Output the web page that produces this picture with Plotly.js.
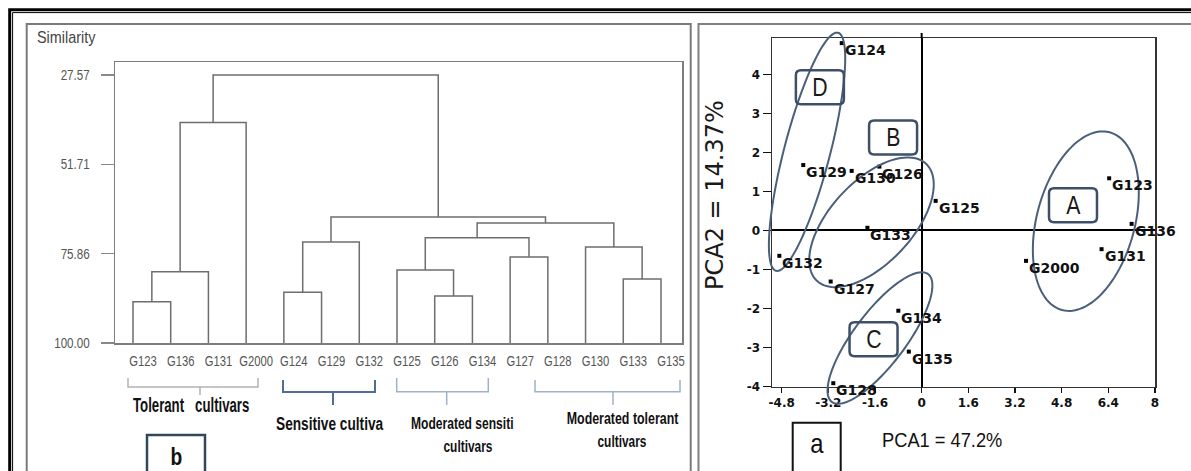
<!DOCTYPE html>
<html><head><meta charset="utf-8">
<script src="https://cdn.plot.ly/plotly-3.0.1.min.js"></script>
<style>html,body{margin:0;padding:0;background:#fff;} #chart{width:1191px;height:471px;}</style>
</head><body><div id="chart"></div>
<script>
// ---------- Dendrogram (panel b) ----------
const leaves = ['G123','G136','G131','G2000','G124','G129','G132','G125','G126','G134','G127','G128','G130','G133','G135'];
const mergeLeft  = ['G123','m0','m1','G124','m3','G126','G125','G127','m6','G133','G130','m8','m4','m2'];
const mergeRight = ['G136','G131','G2000','G129','G132','G134','m5','G128','m7','G135','m9','m10','m11','m12'];
const mergeSim   = [88.84, 80.73, 40.41, 86.3, 72.7, 87.3, 80.27, 76.76, 71.6, 82.7, 74.06, 67.6, 65.95, 27.57];
const simTicks = [27.57, 51.71, 75.86, 100];
const simTickText = ['27.57','51.71','75.86','100.00'];
const clusterLabels = ['Tolerant\u00a0\u00a0\u00a0cultivars','Sensitive cultiva','Moderated sensiti','cultivars','Moderated tolerant','cultivars'];

// ---------- PCA (panel a) ----------
const genotypes = ['G124','G129','G130','G126','G125','G133','G132','G127','G134','G135','G128','G123','G136','G131','G2000'];
const pca1 = [-2.74,-4.06,-2.40,-1.45,0.48,-1.86,-4.88,-3.12,-0.80,-0.44,-3.03,6.43,7.20,6.17,3.58];
const pca2 = [4.81,1.68,1.53,1.64,0.76,0.07,-0.65,-1.31,-2.06,-3.11,-3.92,1.34,0.17,-0.48,-0.78];
const pcaXTicks = [-4.8,-3.2,-1.6,0,1.6,3.2,4.8,6.4,8];
const pcaYTicks = [-4,-3,-2,-1,0,1,2,3,4];
const groupNames = ['A','B','C','D'];
const groupCx = [5.63,-1.72,-1.43,-3.93];
const groupCy = [0.24,0.21,-2.76,2.02];
const groupLabelX = [5.19,-0.98,-1.65,-3.49];
const groupLabelY = [0.65,2.39,-2.79,3.68];

// ---------- styling / geometry ----------
const W = 1191, H = 471;
const fx = p => p / W, fy = p => 1 - p / H;
const ARIAL = '"Liberation Sans", Arial, sans-serif';
const DEJA = '"DejaVu Sans", sans-serif';
const ELL = {a:[92,80,80,123], b:[49,41,26,23], ang:[75,47,53,75.4]};
const PX = {l:772, r:1155, t:38.3, b:386.5};
const XR2 = [-5.132, 8.002], YR2 = [-4.005, 4.934];

// dendrogram segments
const pos = {}, hgt = {};
leaves.forEach((n,i)=>{pos[n]=i; hgt[n]=100;});
const dx = [], dy = [];
mergeSim.forEach((s,k)=>{
  const L = mergeLeft[k], R = mergeRight[k];
  dx.push(pos[L],pos[L],pos[R],pos[R],null);
  dy.push(hgt[L],s,s,hgt[R],null);
  pos['m'+k] = (pos[L]+pos[R])/2; hgt['m'+k] = s;
});

const traces = [
  {type:'scatter', mode:'lines', x:dx, y:dy, xaxis:'x', yaxis:'y',
   line:{color:'#6e6e6e', width:1.5}, hoverinfo:'skip', showlegend:false},
  {type:'scatter', mode:'markers', x:pca1, y:pca2, xaxis:'x2', yaxis:'y2',
   marker:{symbol:'square', size:4, color:'#000'}, showlegend:false, cliponaxis:false}
];

const d2px = (x,y)=>[PX.l + (x-XR2[0])/(XR2[1]-XR2[0])*(PX.r-PX.l), PX.b - (y-YR2[0])/(YR2[1]-YR2[0])*(PX.b-PX.t)];

const shapes = [];
shapes.push({type:'rect', xref:'paper', yref:'paper', x0:fx(9.7), x1:fx(1210), y0:fy(9.7), y1:fy(490), line:{color:'#000', width:3}});
shapes.push({type:'rect', xref:'paper', yref:'paper', x0:fx(12.6), x1:fx(1210), y0:fy(12.6), y1:fy(490), line:{color:'#000', width:1}});
shapes.push({type:'rect', xref:'paper', yref:'paper', x0:fx(26.7), x1:fx(690.7), y0:fy(24), y1:fy(490), line:{color:'#7a7a7a', width:2}});
shapes.push({type:'rect', xref:'paper', yref:'paper', x0:fx(698.5), x1:fx(1210), y0:fy(24), y1:fy(490), line:{color:'#808080', width:2}});

function pth(pts){ return pts.map(s=>s.map((p,i)=>(i?'L':'M')+fx(p[0])+','+fy(p[1])).join(' ')).join(' '); }
const brackets = [
  {pts:[[[128,378],[128,387],[258,387],[258,378]],[[200,387],[200,395]]], c:'#b3b3b3', w:1.5},
  {pts:[[[283,380],[283,392],[375,392],[375,380]],[[333,392],[333,405]]], c:'#4f6d99', w:2},
  {pts:[[[396.7,378],[396.7,391.7],[488.3,391.7],[488.3,378]],[[446.7,391.7],[446.7,405]]], c:'#9fb2c9', w:1.5},
  {pts:[[[535,380],[535,391.7],[680,391.7],[680,380]],[[613,391.7],[613,405]]], c:'#9fb2c9', w:1.5}
];
brackets.forEach(b=>shapes.push({type:'path', xref:'paper', yref:'paper', path:pth(b.pts), line:{color:b.c, width:b.w}}));

shapes.push({type:'rect', xref:'paper', yref:'paper', x0:fx(147), x1:fx(205), y0:fy(435), y1:fy(490), line:{color:'#33475b', width:2.5}});
shapes.push({type:'rect', xref:'paper', yref:'paper', x0:fx(792.7), x1:fx(840.7), y0:fy(422.7), y1:fy(490), line:{color:'#111', width:2}});
// vertical zero line overshoot above the PCA frame
shapes.push({type:'line', xref:'x2', yref:'paper', x0:0, x1:0, y0:fy(PX.t), y1:fy(33), line:{color:'#000', width:2}});

groupNames.forEach((g,k)=>{
  const [cx,cy] = d2px(groupCx[k], groupCy[k]);
  const a = ELL.a[k], b = ELL.b[k], th = ELL.ang[k]*Math.PI/180;
  const pts = [];
  for(let i=0;i<=120;i++){
    const t = i/120*2*Math.PI, u = a*Math.cos(t), v = b*Math.sin(t);
    pts.push([cx + u*Math.cos(th) - v*Math.sin(th), cy - (u*Math.sin(th) + v*Math.cos(th))]);
  }
  shapes.push({type:'path', xref:'paper', yref:'paper', path:pth([pts])+' Z', line:{color:'#4b5f7a', width:2}});
});
groupNames.forEach((g,k)=>{
  const [cx,cy] = d2px(groupLabelX[k], groupLabelY[k]);
  const w2 = 24, h2 = 17, r = 5;
  const x0=cx-w2, x1=cx+w2, y0=cy-h2, y1=cy+h2;
  const p = `M${fx(x0+r)},${fy(y0)} L${fx(x1-r)},${fy(y0)} Q${fx(x1)},${fy(y0)} ${fx(x1)},${fy(y0+r)} L${fx(x1)},${fy(y1-r)} Q${fx(x1)},${fy(y1)} ${fx(x1-r)},${fy(y1)} L${fx(x0+r)},${fy(y1)} Q${fx(x0)},${fy(y1)} ${fx(x0)},${fy(y1-r)} L${fx(x0)},${fy(y0+r)} Q${fx(x0)},${fy(y0)} ${fx(x0+r)},${fy(y0)} Z`;
  shapes.push({type:'path', xref:'paper', yref:'paper', path:p, line:{color:'#3e5068', width:2.5}});
});

const ann = [], annScale = [];
function addAnn(o, s){ if(!o.xanchor) o.xanchor='center'; if(!o.yanchor) o.yanchor='middle'; ann.push(o); annScale.push(s||1); }
addAnn({xref:'paper', yref:'paper', x:fx(35), y:fy(38), xanchor:'left', showarrow:false,
  text:'Similarity', font:{family:ARIAL, size:16, color:'#444'}}, 0.9);
const clPos = [[191,405,'center'],[274,423,'left'],[462.5,423.3,'center'],[467.5,446.7,'center'],[622.5,418.3,'center'],[621.5,441.7,'center']];
const clSize = [20,19,17,17,17,17];
const clScale = [0.66,0.72,0.71,0.70,0.73,0.70];
clusterLabels.forEach((t,i)=>addAnn({xref:'paper', yref:'paper', x:fx(clPos[i][0]), y:fy(clPos[i][1]), xanchor:clPos[i][2],
  showarrow:false, text:t, font:{family:ARIAL, size:clSize[i], color:'#111', weight:'bold'}}, clScale[i]));
addAnn({xref:'paper', yref:'paper', x:fx(176.5), y:fy(456), showarrow:false, text:'b', font:{family:ARIAL, size:24, color:'#111', weight:'bold'}}, 0.8);
addAnn({xref:'paper', yref:'paper', x:fx(817.5), y:fy(443), showarrow:false, text:'a', font:{family:ARIAL, size:28, color:'#111'}}, 0.85);
addAnn({xref:'paper', yref:'paper', x:fx(941.7), y:fy(439), showarrow:false, text:'PCA1 = 47.2%', font:{family:ARIAL, size:21, color:'#111'}}, 0.87);
addAnn({xref:'paper', yref:'paper', x:fx(715), y:fy(195), showarrow:false, textangle:-90, text:'PCA2 = 14.37%', font:{family:DEJA, size:24, color:'#1a1a1a'}}, 1);
genotypes.forEach((g,i)=>addAnn({xref:'x2', yref:'y2', x:pca1[i], y:pca2[i], xanchor:'left', xshift:1, yshift:-7,
  showarrow:false, text:g, font:{family:DEJA, size:14, color:'#111', weight:'bold'}}, 1));
groupNames.forEach((g,k)=>addAnn({xref:'x2', yref:'y2', x:groupLabelX[k], y:groupLabelY[k], showarrow:false, text:g,
  font:{family:ARIAL, size:25, color:'#1a1a1a'}}, 0.85));

const layout = {
  width:W, height:H, margin:{l:0,r:0,t:0,b:0}, paper_bgcolor:'#fff', plot_bgcolor:'rgba(0,0,0,0)', showlegend:false,
  xaxis:{domain:[fx(115), fx(682)], range:[-0.477, 14.557], tickvals:leaves.map((_,i)=>i), ticktext:leaves, ticks:'', tickangle:0,
    showline:true, mirror:true, linecolor:'#7d7d7d', linewidth:1.5, showgrid:false, zeroline:false,
    tickfont:{family:ARIAL, size:15, color:'#555'}, ticklabelshift:10, ticklabelstandoff:4, fixedrange:true},
  yaxis:{domain:[fy(343), fy(62)], range:[100.02, 24.06], tickvals:simTicks, ticktext:simTickText, ticks:'outside', ticklen:13,
    tickcolor:'#888', tickwidth:1.5, showline:true, mirror:true, linecolor:'#7d7d7d', linewidth:1.5, showgrid:false, zeroline:false,
    tickfont:{family:ARIAL, size:14, color:'#555'}, ticklabelstandoff:8, fixedrange:true},
  xaxis2:{anchor:'y2', domain:[fx(PX.l), fx(PX.r)], range:XR2, tickvals:pcaXTicks, ticktext:pcaXTicks.map(v=>String(v)), tickangle:0,
    ticks:'outside', ticklen:5, tickcolor:'#111', tickwidth:1.5, showline:true, mirror:true, linecolor:'#333', linewidth:1.5,
    showgrid:false, zeroline:true, zerolinecolor:'#000', zerolinewidth:2, tickfont:{family:DEJA, size:12, color:'#111', weight:'bold'}, fixedrange:true},
  yaxis2:{anchor:'x2', domain:[fy(PX.b), fy(PX.t)], range:YR2, tickvals:pcaYTicks, ticktext:pcaYTicks.map(v=>String(v)),
    ticks:'outside', ticklen:8, tickcolor:'#111', tickwidth:1.5, showline:true, mirror:true, linecolor:'#333', linewidth:1.5,
    showgrid:false, zeroline:true, zerolinecolor:'#000', zerolinewidth:2, tickfont:{family:DEJA, size:12, color:'#111', weight:'bold'}, fixedrange:true},
  shapes:shapes, annotations:ann
};

// horizontally condense text (the reference uses narrow fonts, none installed)
function condense(el, s, anchor){
  if(s === 1 || !el) return;
  const bb = el.getBBox();
  const ox = anchor === 'left' ? bb.x : anchor === 'right' ? bb.x + bb.width : bb.x + bb.width/2;
  const prev = el.getAttribute('transform') || '';
  el.setAttribute('transform', prev + ` translate(${ox},0) scale(${s},1) translate(${-ox},0)`);
}
Plotly.newPlot('chart', traces, layout, {staticPlot:true, displayModeBar:false}).then(gd=>{
  gd.querySelectorAll('.annotation').forEach(g=>{
    const i = +g.getAttribute('data-index');
    const t = g.querySelector('.annotation-text');
    condense(t, annScale[i], ann[i].xanchor === 'left' ? 'left' : 'center');
  });
  gd.querySelectorAll('.subplot.xy .xtick text').forEach(t=>condense(t, 0.75, 'center'));
  gd.querySelectorAll('.subplot.xy .ytick text').forEach(t=>condense(t, 0.83, 'right'));
});
</script></body></html>
